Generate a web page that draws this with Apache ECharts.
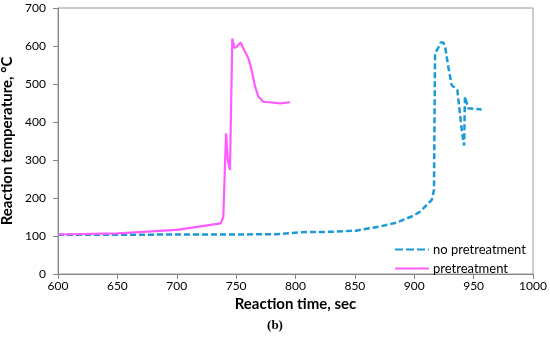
<!DOCTYPE html>
<html>
<head>
<meta charset="utf-8">
<script src="https://cdn.jsdelivr.net/npm/echarts@6/dist/echarts.min.js"></script>
<style>html,body{margin:0;padding:0;background:#fff}#c{width:550px;height:342px}</style>
</head>
<body>
<div id="c"></div>
<script>
const xTicks = [600, 650, 700, 750, 800, 850, 900, 950, 1000];
const yTicks = [0, 100, 200, 300, 400, 500, 600, 700];

const noPreTime = [600, 650, 700, 750, 787, 804, 829, 851, 871, 885, 899, 905, 914.7, 916.6, 917.5, 920, 922.3, 924.5, 926, 928.7, 931.5, 936.3, 940, 942, 942.7, 945.5, 956.8];
const noPreTemp = [103, 103, 104, 104, 105, 110, 111, 114, 125, 135, 153, 164, 195, 221, 581, 594, 609, 609, 598, 545, 497, 484, 379, 338, 467, 436, 433];

const preTime = [600, 650, 700, 737, 739.2, 741.5, 743, 744.8, 746.8, 748.5, 750.5, 753.8, 756, 760.3, 763, 766, 768.7, 773, 778.5, 787, 795.4];
const preTemp = [104, 107, 116, 133, 150, 370, 300, 274, 620, 595, 598, 609, 594, 568, 537, 493, 467, 453, 452, 449, 452];

const zip = (a, b) => a.map((v, i) => [v, b[i]]);
const font = "Lato, sans-serif";

const chart = echarts.init(document.getElementById('c'), null, {renderer: 'canvas'});
chart.setOption({
  animation: false,
  grid: {left: 58, right: 17, top: 8, bottom: 68, show: true, borderColor: '#9a9a9a', borderWidth: 1, containLabel: false, outerBoundsMode: 'none'},
  xAxis: {
    type: 'value', min: 600, max: 1000, interval: 50,
    name: 'Reaction time, sec', nameLocation: 'middle', nameGap: 20,
    nameTextStyle: {fontFamily: font, fontWeight: 'bold', fontSize: 15, color: '#000'},
    axisLine: {lineStyle: {color: '#868686'}},
    axisTick: {show: true, length: 5, lineStyle: {color: '#868686'}},
    axisLabel: {fontFamily: font, fontSize: 12, color: '#000', margin: 6, formatter: v => String(v)},
    splitLine: {show: false}
  },
  yAxis: {
    type: 'value', min: 0, max: 700, interval: 100,
    name: 'Reaction temperature, °C', nameLocation: 'middle', nameGap: 38,
    nameTextStyle: {fontFamily: font, fontWeight: 'bold', fontSize: 15, color: '#000'},
    axisLine: {show: true, lineStyle: {color: '#868686'}},
    axisTick: {show: true, length: 5, lineStyle: {color: '#868686'}},
    axisLabel: {fontFamily: font, fontSize: 12, color: '#000', margin: 12, formatter: v => String(v)},
    splitLine: {show: false}
  },
  legend: {
    orient: 'vertical', left: 390, top: 238, itemGap: 6, itemWidth: 34, itemHeight: 12,
    textStyle: {fontFamily: font, fontSize: 13, color: '#000', padding: [0, 0, 0, -1]},
    data: [
      {name: 'no pretreatment', icon: 'path://M0,5 L8,5 L8,7 L0,7 Z M11,5 L19,5 L19,7 L11,7 Z M22,5 L30,5 L30,7 L22,7 Z M33,5 L34,5 L34,7 L33,7 Z', itemStyle: {color: '#1a9ad6'}},
      {name: 'pretreatment', icon: 'path://M0,5 L34,5 L34,7 L0,7 Z', itemStyle: {color: '#ff5cff'}}
    ]
  },
  graphic: [{
    type: 'text', left: 'center', top: 319,
    style: {text: '(b)', font: "bold 13px 'Liberation Serif', serif", fill: '#000'}
  }],
  series: [
    {
      name: 'no pretreatment', type: 'line', data: zip(noPreTime, noPreTemp),
      showSymbol: false, symbol: 'none',
      lineStyle: {color: '#1a9ad6', width: 2.5, type: [6, 3]},
      itemStyle: {color: '#1a9ad6'}
    },
    {
      name: 'pretreatment', type: 'line', data: zip(preTime, preTemp),
      showSymbol: false, symbol: 'none',
      lineStyle: {color: '#ff5cff', width: 2.2},
      itemStyle: {color: '#ff5cff'}
    }
  ]
});
</script>
</body>
</html>
